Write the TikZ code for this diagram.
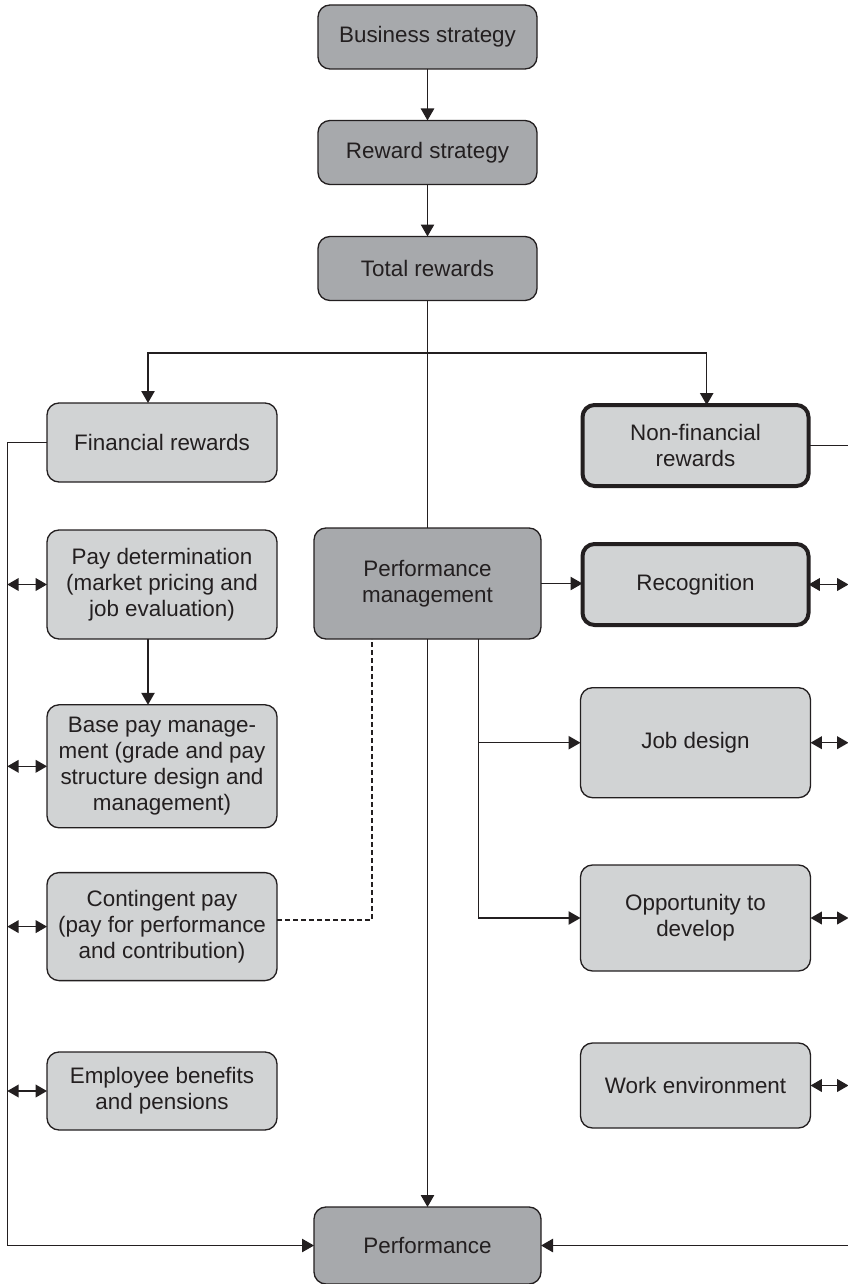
\documentclass[tikz,border=0pt]{standalone}
\usepackage{fontspec}
\setmainfont{Liberation Sans}
\usetikzlibrary{arrows.meta,calc}
\definecolor{ink}{HTML}{231F20}
\definecolor{darkbox}{HTML}{A7A9AC}
\definecolor{lightbox}{HTML}{D1D3D4}
\tikzset{
  box/.style={draw=ink, line width=1pt, rounded corners=9pt, inner sep=0pt, outer sep=0pt,
    align=center, text=ink, font=\fontsize{16.8}{19.5}\selectfont},
  darkb/.style={box, fill=darkbox},
  lightb/.style={box, fill=lightbox},
  thickb/.style={box, fill=lightbox, line width=3pt},
  conn/.style={draw=ink, line width=1.1pt},
  arr/.style={conn, -{Triangle[length=9pt,width=10pt]}},
  darr/.style={conn, {Triangle[length=8.5pt,width=9.5pt]}-{Triangle[length=8.5pt,width=9.5pt]}},
  dashline/.style={draw=ink, line width=0.9pt, dash pattern=on 3.5pt off 2.5pt}
}
\begin{document}
\begin{tikzpicture}[x=0.75pt,y=-0.75pt]
\useasboundingbox (0,0) rectangle (847,1284);
% top chain
\node[darkb, minimum width=164.25pt, minimum height=48pt] (bs) at (427.5,37) {Business strategy};
\node[darkb, minimum width=164.25pt, minimum height=48pt] (rs) at (427.5,152.5) {Reward strategy};
\node[darkb, minimum width=164.25pt, minimum height=48pt] (tr) at (427.5,268.5) {Total rewards};
% left column
\node[lightb, minimum width=172.5pt, minimum height=59.25pt] (fr) at (162,442.5) {Financial rewards};
\node[lightb, minimum width=172.5pt, minimum height=81.75pt] (pd) at (162,584.5) {Pay determination\\(market pricing and\\job evaluation)};
\node[lightb, minimum width=172.5pt, minimum height=92.25pt] (bp) at (162,766.3) {Base pay manage-\\ment (grade and pay\\structure design and\\management)};
\node[lightb, minimum width=172.5pt, minimum height=81pt] (cp) at (162,926.6) {Contingent pay\\(pay for performance\\and contribution)};
\node[lightb, minimum width=172.5pt, minimum height=58.5pt] (eb) at (162,1091) {Employee benefits\\and pensions};
% middle
\node[darkb, minimum width=170.25pt, minimum height=83.25pt] (pm) at (427.5,583.5) {Performance\\management};
\node[darkb, minimum width=170.25pt, minimum height=57.75pt] (perf) at (427.5,1245.5) {Performance};
% right column
\node[thickb, minimum width=169.5pt, minimum height=60.75pt] (nfr) at (695.5,445.5) {Non-financial\\rewards};
\node[thickb, minimum width=169.5pt, minimum height=60.75pt] (rec) at (695.5,584.5) {Recognition};
\node[lightb, minimum width=172.5pt, minimum height=82.5pt] (jd) at (695.5,742.7) {Job design};
\node[lightb, minimum width=172.5pt, minimum height=79.5pt] (od) at (695.5,918) {Opportunity to\\develop};
\node[lightb, minimum width=172.5pt, minimum height=63.75pt] (we) at (695.5,1085.5) {Work environment};
% helper coordinates
\coordinate (split) at (427.5,353);
\coordinate (lbus) at (7.3,442);
\coordinate (rbus) at (848.5,443);
\coordinate (dl) at (372,920);
\coordinate (br) at (478.5,700);
% top chain connectors
\draw[arr] (bs) -- (rs);
\draw[arr] (rs) -- (tr);
\draw[conn] (tr.south) -- (pm.north);
\draw[arr] (split) -| ([xshift=-10.5pt]fr.north);
\draw[arr] (split) -| ([xshift=8.4pt]nfr.north);
% left bus
\draw[arr] (fr.west) -- (fr.west -| lbus) |- (perf.west);
\draw[darr] (pd.west -| lbus) -- (pd.west);
\draw[darr] (bp.west -| lbus) -- (bp.west);
\draw[darr] (cp.west -| lbus) -- (cp.west);
\draw[darr] (eb.west -| lbus) -- (eb.west);
\draw[arr] ([xshift=-10.5pt]pd.south) -- ([xshift=-10.5pt]bp.north);
% dashed link
\draw[dashline] (cp.east |- dl) -- (dl) -- (dl |- pm.south);
% performance management links
\draw[arr] (pm.east) -- (pm.east -| rec.west);
\draw[arr] (pm.south) -- (perf.north);
\draw[arr] (br |- pm.south) -- (br |- od.west) -- (od.west);
\draw[arr] (br |- jd.west) -- (jd.west);
% right bus
\draw[arr] (nfr.east) -- (nfr.east -| rbus) |- (perf.east);
\draw[darr] (rec.east) -- (rec.east -| rbus);
\draw[darr] (jd.east) -- (jd.east -| rbus);
\draw[darr] (od.east) -- (od.east -| rbus);
\draw[darr] (we.east) -- (we.east -| rbus);
\end{tikzpicture}
\end{document}
